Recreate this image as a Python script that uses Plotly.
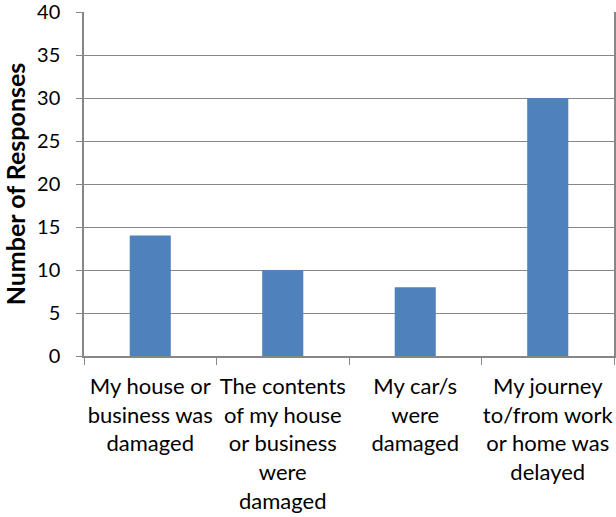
import plotly.graph_objects as go

# Survey responses by type of impact
categories = [
    "My house or<br>business was<br>damaged",
    "The contents<br>of my house<br>or business<br>were<br>damaged",
    "My car/s<br>were<br>damaged",
    "My journey<br>to/from work<br>or home was<br>delayed",
]
responses = [14, 10, 8, 30]

y_ticks = [0, 5, 10, 15, 20, 25, 30, 35, 40]

FONT = "Lato"
GRID = "#878787"

fig = go.Figure(
    go.Bar(
        x=categories,
        y=responses,
        marker=dict(color="#4F81BD", line=dict(width=0)),
        width=0.31,
    )
)

fig.update_layout(
    width=616,
    height=517,
    margin=dict(l=84, r=2, t=12, b=161),
    plot_bgcolor="white",
    paper_bgcolor="white",
    showlegend=False,
    font=dict(family=FONT, color="black"),
)

fig.update_yaxes(
    range=[0, 40],
    tickvals=y_ticks,
    ticktext=[str(v) for v in y_ticks],
    showgrid=True,
    gridcolor=GRID,
    gridwidth=1,
    showline=True,
    linecolor=GRID,
    linewidth=1.5,
    mirror=True,
    ticks="outside",
    ticklen=6,
    tickcolor=GRID,
    ticklabelstandoff=12,
    ticklabeloverflow="allow",
    automargin=False,
    tickfont=dict(family=FONT, size=20, color="black"),
    zeroline=False,
    title=dict(
        text="<b>Number of Responses</b>",
        font=dict(family=FONT, size=25, color="black"),
        standoff=12,
    ),
)

fig.update_xaxes(
    type="category",
    showline=True,
    linecolor=GRID,
    linewidth=1.5,
    ticks="outside",
    tickson="boundaries",
    ticklen=7,
    tickcolor=GRID,
    ticklabelstandoff=10,
    automargin=False,
    tickfont=dict(family=FONT, size=22, color="black"),
    tickangle=0,
    showgrid=False,
)

fig.write_html("out.html")
